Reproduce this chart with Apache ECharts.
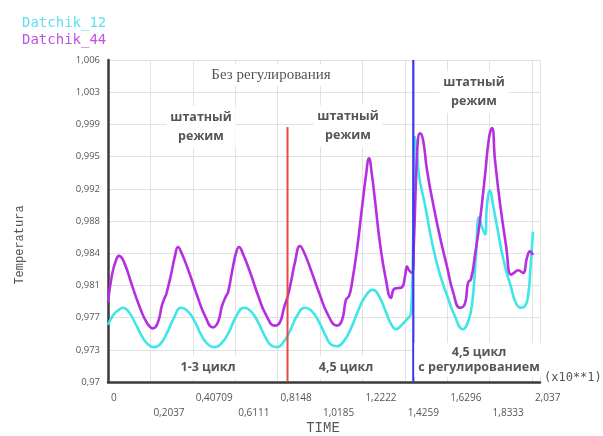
<!DOCTYPE html>
<html>
<head>
<meta charset="utf-8">
<script src="https://cdn.jsdelivr.net/npm/echarts@6/dist/echarts.min.js"></script>
<style>
html,body{margin:0;padding:0;background:#fff;}
#c{width:603px;height:436px;}
</style>
</head>
<body>
<div id="c"></div>
<script>
// ---- data ----
const time12 = [0,0.0288,0.0480,0.0721,0.1009,0.1345,0.1682,0.1970,0.2210,0.2498,0.2834,0.3171,0.3507,0.3843,0.4180,0.4516,0.4852,0.5140,0.5477,0.5813,0.6149,0.6534,0.6870,0.7206,0.7543,0.7831,0.8119,0.8407,0.8744,0.9080,0.9464,0.9800,1.0137,1.0473,1.0713,1.1001,1.1338,1.1674,1.2058,1.2395,1.2731,1.3019,1.3355,1.3596,1.3836,1.4076,1.4316,1.4556,1.4652,1.4700,1.4748,1.4844,1.4940,1.5228,1.5613,1.5950,1.6286,1.6622,1.7055,1.7295,1.7487,1.7679,1.7823,1.7967,1.8112,1.8208,1.8352,1.8496,1.8688,1.9024,1.9361,1.9601,1.9841,2.0033,2.0177,2.0321,2.0417];
const temp12 = [0.9764,0.9776,0.9780,0.9783,0.9778,0.9764,0.9749,0.9741,0.9739,0.9742,0.9755,0.9772,0.9783,0.9779,0.9767,0.9751,0.9741,0.9739,0.9744,0.9756,0.9773,0.9783,0.9779,0.9767,0.9751,0.9741,0.9739,0.9744,0.9757,0.9774,0.9783,0.9779,0.9767,0.9751,0.9742,0.9740,0.9746,0.9760,0.9782,0.9797,0.9803,0.9796,0.9778,0.9765,0.9759,0.9763,0.9769,0.9777,0.9848,0.9937,0.9974,0.9959,0.9931,0.9898,0.9851,0.9820,0.9797,0.9776,0.9759,0.9767,0.9786,0.9842,0.9884,0.9873,0.9865,0.9898,0.9914,0.9898,0.9874,0.9834,0.9806,0.9788,0.9783,0.9785,0.9795,0.9836,0.9868];

const time44 = [0,0.0192,0.0384,0.0528,0.0769,0.1153,0.1537,0.1874,0.2162,0.2402,0.2594,0.2738,0.2786,0.3027,0.3219,0.3363,0.3555,0.3891,0.4276,0.4660,0.5044,0.5285,0.5477,0.5669,0.5765,0.5957,0.6149,0.6294,0.6486,0.6822,0.7206,0.7591,0.8023,0.8263,0.8455,0.8648,0.8792,0.8984,0.9224,0.9416,0.9752,1.0137,1.0569,1.1001,1.1242,1.1434,1.1578,1.1722,1.1962,1.2203,1.2395,1.2539,1.2683,1.2827,1.3067,1.3355,1.3596,1.3740,1.3932,1.4124,1.4268,1.4364,1.4460,1.4604,1.4700,1.4796,1.4892,1.4988,1.5132,1.5325,1.5613,1.5950,1.6286,1.6574,1.6911,1.7151,1.7295,1.7439,1.7631,1.7872,1.8112,1.8304,1.8448,1.8592,1.8832,1.9120,1.9361,1.9505,1.9697,1.9937,2.0129,2.0273,2.0417];
const temp44 = [0.9789,0.9820,0.9836,0.9841,0.9834,0.9808,0.9783,0.9766,0.9760,0.9767,0.9786,0.9795,0.9797,0.9820,0.9841,0.9851,0.9843,0.9823,0.9797,0.9774,0.9761,0.9767,0.9785,0.9796,0.9800,0.9823,0.9844,0.9851,0.9843,0.9823,0.9797,0.9775,0.9763,0.9767,0.9783,0.9797,0.9812,0.9834,0.9852,0.9845,0.9825,0.9800,0.9775,0.9763,0.9769,0.9792,0.9796,0.9811,0.9848,0.9895,0.9931,0.9950,0.9931,0.9903,0.9855,0.9814,0.9794,0.9804,0.9805,0.9806,0.9818,0.9829,0.9825,0.9822,0.9859,0.9926,0.9971,0.9978,0.9971,0.9937,0.9900,0.9862,0.9829,0.9801,0.9783,0.9788,0.9811,0.9815,0.9842,0.9881,0.9931,0.9973,0.9984,0.9948,0.9900,0.9853,0.9820,0.9822,0.9825,0.9822,0.9839,0.9846,0.9842];

const seriesNames = ['Datchik_12', 'Datchik_44'];
const xTickLabels = ['0','0,2037','0,40709','0,6111','0,8148','1,0185','1,2222','1,4259','1,6296','1,8333','2,037'];
const yTickLabels = ['0,97','0,973','0,977','0,981','0,984','0,988','0,992','0,995','0,999','1,003','1,006'];
const xStep = 0.2037;
const yMin = 0.97, yMax = 1.006, yStep = 0.0036;
const xMax = 2.0754;

// vertical marker lines (time, top temperature)
const redMarkTime = 0.8624, redMarkTop = 0.9985;
const blueMarkTime = 1.4667, blueMarkTop = 1.006;

const pairs = (xs, ys) => xs.map((x, i) => [x, ys[i]]);

const chart = echarts.init(document.getElementById('c'), null, {renderer: 'canvas'});

const annot = (text, x, y, extra) => Object.assign({
  type: 'text', x: x, y: y, z: 50,
  style: Object.assign({
    text: text, align: 'center', verticalAlign: 'middle',
    fill: '#555', font: 'bold 12.5px "Open Sans", sans-serif',
    lineHeight: 19, backgroundColor: '#fff', padding: [2, 4]
  }, extra || {})
});

chart.setOption({
  animation: false,
  backgroundColor: '#fff',
  grid: {left: 108, right: 63, top: 60, bottom: 54, containLabel: false},
  legend: {
    data: [
      {name: seriesNames[0], textStyle: {color: '#5fe0ee'}},
      {name: seriesNames[1], textStyle: {color: '#c052e0'}}
    ],
    orient: 'vertical', left: 12, top: 11, itemGap: 3,
    icon: 'none', itemWidth: 0, itemHeight: 0,
    textStyle: {fontFamily: '"DejaVu Sans Mono", monospace', fontSize: 14, padding: 0}
  },
  xAxis: {
    type: 'value', min: 0, max: xMax, interval: xStep,
    axisLine: {show: true, onZero: false, lineStyle: {color: '#3a3a3a', width: 2.5}},
    axisTick: {show: false},
    splitLine: {show: true, lineStyle: {color: '#e2e2e2', width: 1}},
    axisLabel: {
      show: true, margin: 9, align: 'left', color: '#555',
      fontFamily: '"Open Sans", sans-serif', fontSize: 10, lineHeight: 15,
      padding: [0, 0, 0, 3],
      formatter: function (v) {
        const i = Math.round(v / xStep);
        if (Math.abs(i * xStep - v) > 1e-6 || i >= xTickLabels.length) return '';
        return (i % 2 === 1 ? '\n' : '') + xTickLabels[i];
      }
    }
  },
  yAxis: {
    type: 'value', min: yMin, max: yMax, interval: yStep,
    axisLine: {show: true, onZero: false, lineStyle: {color: '#3a3a3a', width: 2.5}},
    axisTick: {show: false},
    splitLine: {show: true, lineStyle: {color: '#e2e2e2', width: 1}},
    axisLabel: {
      margin: 8, color: '#555', fontFamily: '"Open Sans", sans-serif', fontSize: 9.5,
      formatter: function (v) {
        const i = Math.round((v - yMin) / yStep);
        return yTickLabels[i] !== undefined ? yTickLabels[i] : '';
      }
    }
  },
  series: [
    {
      name: seriesNames[0], type: 'line', data: pairs(time12, temp12),
      showSymbol: false, smooth: 0.5,
      lineStyle: {color: '#3ee6e8', width: 2.6}, itemStyle: {color: '#3ee6e8'}, z: 3
    },
    {
      name: seriesNames[1], type: 'line', data: pairs(time44, temp44),
      showSymbol: false, smooth: 0.5,
      lineStyle: {color: '#b52ee0', width: 2.6}, itemStyle: {color: '#b52ee0'}, z: 4
    },
    {
      name: 'mark1', type: 'line', data: [[redMarkTime, yMin], [redMarkTime, redMarkTop]],
      showSymbol: false, lineStyle: {color: '#e24a44', width: 2}, z: 5
    },
    {
      name: 'mark2', type: 'line', data: [[blueMarkTime, yMin], [blueMarkTime, blueMarkTop]],
      showSymbol: false, lineStyle: {color: '#4136ee', width: 2.2}, z: 5
    }
  ],
  graphic: [
    annot('Без регулирования', 271, 75, {font: '15px "Liberation Serif", serif', fill: '#555', padding: [1, 4]}),
    annot('штатный\nрежим', 201, 127),
    annot('штатный\nрежим', 348, 126),
    annot('штатный\nрежим', 474, 92),
    annot('1-3 цикл', 208, 367),
    annot('4,5 цикл', 346, 367),
    annot('4,5 цикл\nс регулированием', 479, 360, {lineHeight: 15}),
    {type: 'text', x: 544, y: 378, z: 50, style: {text: '(x10**1)', align: 'left', verticalAlign: 'middle', fill: '#555', font: '12px "DejaVu Sans Mono", monospace'}},
    {type: 'text', x: 323, y: 428, z: 50, style: {text: 'TIME', align: 'center', verticalAlign: 'middle', fill: '#555', font: '14px "Liberation Mono", monospace'}},
    {type: 'text', x: 20, y: 245, rotation: Math.PI / 2, z: 50, style: {text: 'Temperatura', align: 'center', verticalAlign: 'middle', fill: '#555', font: '12px "Liberation Mono", monospace'}}
  ]
});
</script>
</body>
</html>
